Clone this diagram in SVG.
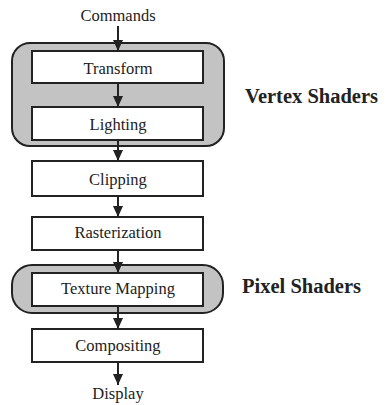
<svg xmlns="http://www.w3.org/2000/svg" width="387" height="405" viewBox="0 0 387 405">
<style>
.grp{fill:#c3c3c3;stroke:#222;stroke-width:2}
.box{fill:#fff;stroke:#222;stroke-width:2}
.t{font-family:"Liberation Serif","Times New Roman","DejaVu Serif",serif;font-size:16.5px;fill:#222;text-anchor:middle}
.lbl{font-family:"Liberation Serif","Times New Roman","DejaVu Serif",serif;font-size:20.5px;font-weight:bold;fill:#222}
.c{stroke:#222;stroke-width:2;fill:none;marker-end:url(#ah)}
</style>
<defs>
<marker id="ah" markerWidth="12" markerHeight="12" refX="11" refY="6" orient="auto" markerUnits="userSpaceOnUse">
<path d="M0,1 L11,6 L0,11 Z" fill="#222"/>
</marker>
</defs>
<g id="vertex-shaders">
<rect class="grp" x="12" y="43" width="212" height="103" rx="18" ry="18"/>
<text class="lbl" x="245" y="103">Vertex Shaders</text>
</g>
<g id="pixel-shaders">
<rect class="grp" x="12" y="265" width="211" height="48" rx="20" ry="20"/>
<text class="lbl" x="242" y="293">Pixel Shaders</text>
</g>
<g id="commands"><text class="t" x="118" y="21">Commands</text></g>
<g id="transform"><rect class="box" x="32" y="51" width="171" height="32"/><text class="t" x="118" y="74">Transform</text></g>
<g id="lighting"><rect class="box" x="32" y="107" width="171" height="33"/><text class="t" x="118" y="130">Lighting</text></g>
<g id="clipping"><rect class="box" x="32" y="161" width="171" height="35"/><text class="t" x="118" y="185">Clipping</text></g>
<g id="rasterization"><rect class="box" x="32" y="217" width="171" height="33"/><text class="t" x="118" y="238">Rasterization</text></g>
<g id="texture-mapping"><rect class="box" x="32" y="273" width="171" height="33"/><text class="t" x="118" y="294">Texture Mapping</text></g>
<g id="compositing"><rect class="box" x="32" y="329" width="171" height="33"/><text class="t" x="118" y="351">Compositing</text></g>
<g id="display"><text class="t" x="118" y="399">Display</text></g>
<g id="connectors">
<line class="c" x1="118" y1="26" x2="118" y2="51"/>
<line class="c" x1="118" y1="83" x2="118" y2="107"/>
<line class="c" x1="118" y1="140" x2="118" y2="161"/>
<line class="c" x1="118" y1="196" x2="118" y2="217"/>
<line class="c" x1="118" y1="250" x2="118" y2="273"/>
<line class="c" x1="118" y1="306" x2="118" y2="329"/>
<line class="c" x1="118" y1="362" x2="118" y2="385"/>
</g>
</svg>
